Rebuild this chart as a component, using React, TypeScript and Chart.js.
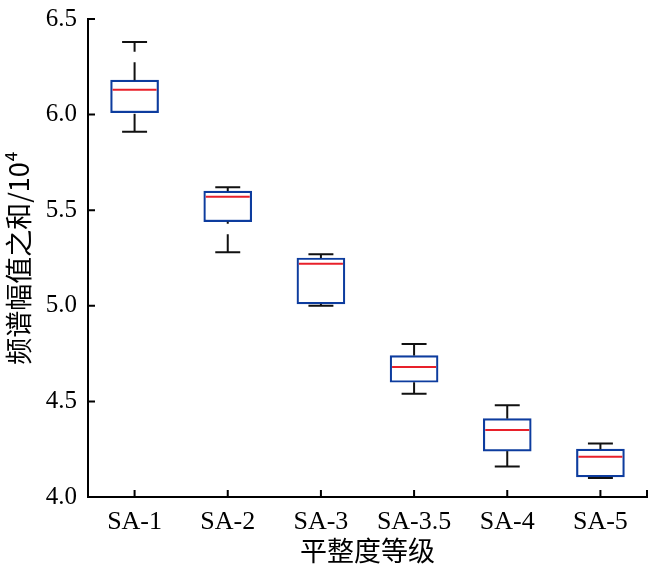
import React, { useEffect, useRef } from "react";
import { Chart, registerables } from "chart.js";

Chart.register(...registerables);

const categories = ["SA-1", "SA-2", "SA-3", "SA-3.5", "SA-4", "SA-5"];
const whiskerLow = [5.91, 5.28, 5.0, 4.54, 4.16, 4.1];
const quartile1 = [6.01, 5.44, 5.01, 4.6, 4.24, 4.105];
const medians = [6.13, 5.57, 5.22, 4.68, 4.35, 4.21];
const quartile3 = [6.18, 5.6, 5.25, 4.74, 4.41, 4.25];
const whiskerHigh = [6.38, 5.62, 5.27, 4.8, 4.48, 4.28];
const yMin = 4.0;
const yMax = 6.5;
const yStep = 0.5;

const SERIF = "'Liberation Serif', 'Times New Roman', 'Noto Sans CJK SC', serif";

const boxPlugin = {
  id: "boxWhiskers",
  afterDatasetsDraw(chart: any) {
    const ctx = chart.ctx;
    const y = chart.scales.y;
    const xs = chart.scales.x;
    const meta = chart.getDatasetMeta(0);
    const area = chart.chartArea;
    ctx.save();
    meta.data.forEach((bar: any, i: number) => {
      const { x, width } = bar.getProps(["x", "width"], true);
      const pLow = y.getPixelForValue(whiskerLow[i]);
      const pQ1 = y.getPixelForValue(quartile1[i]);
      const pMed = y.getPixelForValue(medians[i]);
      const pQ3 = y.getPixelForValue(quartile3[i]);
      const pHigh = y.getPixelForValue(whiskerHigh[i]);
      const capHalf = width * 0.26;
      ctx.strokeStyle = "#111111";
      ctx.lineWidth = 2;
      ctx.setLineDash([18, 10.5]);
      ctx.beginPath();
      ctx.moveTo(x, pQ3);
      ctx.lineTo(x, pHigh);
      ctx.stroke();
      ctx.beginPath();
      ctx.moveTo(x, pLow);
      ctx.lineTo(x, pQ1);
      ctx.stroke();
      ctx.setLineDash([]);
      ctx.beginPath();
      ctx.moveTo(x - capHalf, pHigh);
      ctx.lineTo(x + capHalf, pHigh);
      ctx.moveTo(x - capHalf, pLow);
      ctx.lineTo(x + capHalf, pLow);
      ctx.stroke();
      ctx.strokeStyle = "#e8202a";
      ctx.lineWidth = 2;
      ctx.beginPath();
      ctx.moveTo(x - width / 2 + 2, pMed);
      ctx.lineTo(x + width / 2 - 2, pMed);
      ctx.stroke();
    });
    ctx.strokeStyle = "#000000";
    ctx.lineWidth = 2;
    ctx.beginPath();
    y.ticks.forEach((t: any) => {
      const py = y.getPixelForValue(t.value);
      ctx.moveTo(area.left, py);
      ctx.lineTo(area.left + 7, py);
    });
    categories.forEach((_c, i) => {
      const px = xs.getPixelForValue(i);
      ctx.moveTo(px, area.bottom);
      ctx.lineTo(px, area.bottom - 7);
    });
    ctx.moveTo(area.right, area.bottom);
    ctx.lineTo(area.right, area.bottom - 7);
    ctx.stroke();
    ctx.restore();
  },
};

export default function App() {
  const ref = useRef<HTMLCanvasElement>(null);
  useEffect(() => {
    if (!ref.current) return;
    const chart = new Chart(ref.current, {
      type: "bar",
      data: {
        labels: categories,
        datasets: [
          {
            data: quartile1.map((q, i) => [q, quartile3[i]]),
            backgroundColor: "#ffffff",
            borderColor: "#0d3c9e",
            borderWidth: 2.2,
            borderSkipped: false,
            barThickness: 48,
          },
        ],
      },
      options: {
        animation: false,
        responsive: false,
        maintainAspectRatio: false,
        events: [],
        layout: { padding: { left: 0, top: 19, right: 13, bottom: 0 } },
        plugins: {
          legend: { display: false },
          tooltip: { enabled: false },
        },
        scales: {
          x: {
            offset: true,
            grid: { display: false, drawTicks: false },
            border: { display: true, color: "#000000", width: 2 },
            ticks: {
              color: "#000000",
              padding: 10,
              maxRotation: 0,
              font: { family: SERIF, size: 26 },
            },
            title: {
              display: true,
              text: "平整度等级",
              color: "#000000",
              font: { family: "'Noto Sans CJK SC', sans-serif", size: 27 },
              padding: { top: 0, bottom: 3 },
            },
            afterFit: (s: any) => {
              s.height = 73;
              s.paddingLeft = 0;
              s.paddingRight = 0;
            },
          },
          y: {
            min: yMin,
            max: yMax,
            grid: { display: false, drawTicks: false },
            border: { display: true, color: "#000000", width: 2 },
            ticks: {
              stepSize: yStep,
              color: "#000000",
              padding: 11,
              font: { family: SERIF, size: 25 },
              callback: (v: any) => Number(v).toFixed(1),
            },
            title: {
              display: true,
              text: "频谱幅值之和/10⁴",
              color: "#000000",
              font: { family: "'Noto Sans CJK SC', 'Liberation Serif', sans-serif", size: 27 },
              padding: { top: 3, bottom: 0 },
            },
            afterFit: (s: any) => {
              s.width = 88;
              s.paddingTop = 0;
              s.paddingBottom = 0;
            },
          },
        },
      },
      plugins: [boxPlugin],
    });
    return () => chart.destroy();
  }, []);
  return (
    <div style={{ position: "absolute", left: 0, top: 0, width: 660, height: 570, background: "#ffffff" }}>
      <canvas ref={ref} width={660} height={570} style={{ width: 660, height: 570 }} />
    </div>
  );
}
